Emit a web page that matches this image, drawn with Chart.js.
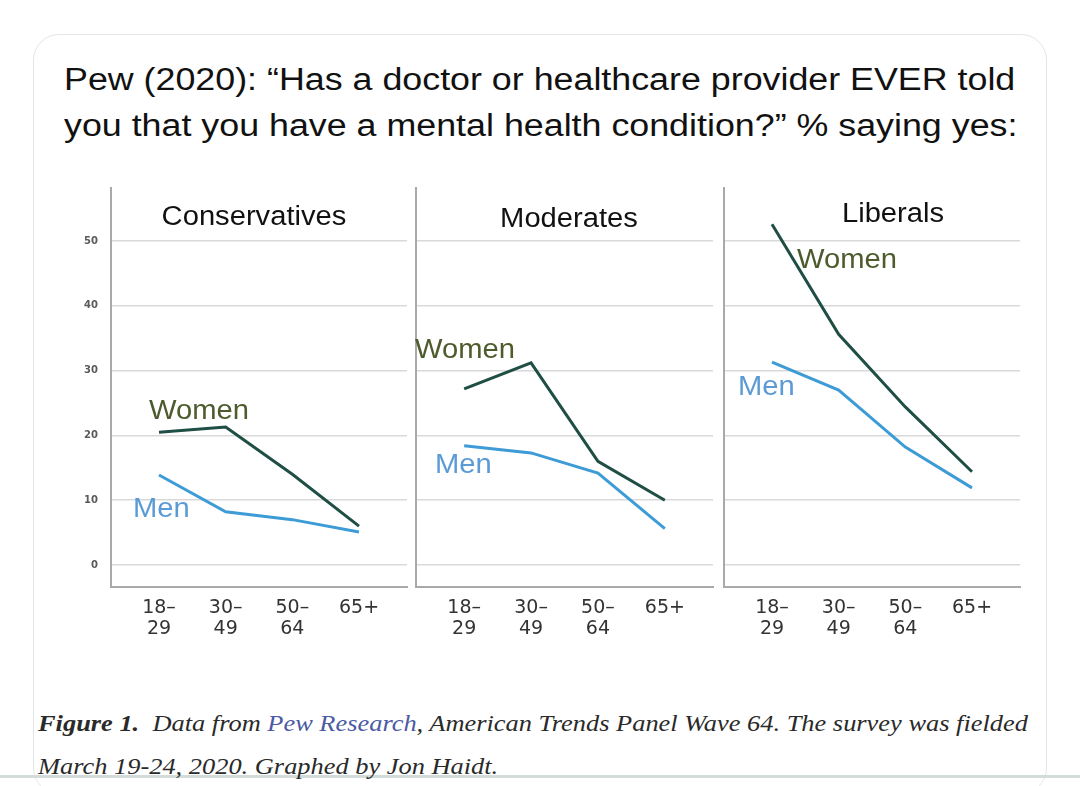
<!DOCTYPE html>
<html>
<head>
<meta charset="utf-8">
<script src="https://cdn.jsdelivr.net/npm/chart.js@4.4.1/dist/chart.umd.min.js"></script>
<style>
  html, body { margin: 0; padding: 0; background: #fff; }
  body { width: 1080px; height: 786px; position: relative; overflow: hidden; font-family: "Liberation Sans", Arial, sans-serif; }
  .card { position: absolute; left: 33px; top: 34px; width: 1014px; height: 760px; border: 1.5px solid #e6e6e6; border-radius: 26px; box-sizing: border-box; }
  .rule { position: absolute; left: 0; top: 775px; width: 1080px; height: 3px; background: #d3dbdb; }
  .title { position: absolute; left: 64px; top: 57px; font-size: 31px; line-height: 46px; color: #111; white-space: nowrap; transform: scaleX(1.155); transform-origin: 0 0; }
  .panel { position: absolute; }
  .ptitle { position: absolute; font-size: 27px; color: #111; white-space: nowrap; transform: translate(-50%, -50%) scaleX(1.08); }
  .slabel { position: absolute; font-size: 27px; white-space: nowrap; transform: translateY(-50%) scaleX(1.08); transform-origin: 0 50%; }
  .women { color: #4d5b2d; }
  .men { color: #5b9bd5; }
  .caption { position: absolute; left: 38px; top: 702px; font-family: "Liberation Serif", "DejaVu Serif", serif; font-style: italic; font-size: 24px; line-height: 43px; color: #2a2a2a; white-space: nowrap; transform: scaleX(1.1); transform-origin: 0 0; }
  .caption b { font-weight: bold; }
  .caption .link { color: #4b5aa5; }
</style>
</head>
<body>
<div class="card"></div>
<div class="rule"></div>
<div class="title">Pew (2020): “Has a doctor or healthcare provider EVER told<br>you that you have a mental health condition?” % saying yes:</div>

<canvas id="c0" class="panel"></canvas>
<canvas id="c1" class="panel"></canvas>
<canvas id="c2" class="panel"></canvas>

<div class="ptitle" style="left:254px; top:216px;">Conservatives</div>
<div class="ptitle" style="left:569px; top:218px;">Moderates</div>
<div class="ptitle" style="left:893px; top:213px;">Liberals</div>

<div class="slabel women" style="left:149px; top:410px;">Women</div>
<div class="slabel men" style="left:133px; top:508px;">Men</div>
<div class="slabel women" style="left:415px; top:349px;">Women</div>
<div class="slabel men" style="left:435px; top:464px;">Men</div>
<div class="slabel women" style="left:797px; top:259px;">Women</div>
<div class="slabel men" style="left:738px; top:386px;">Men</div>

<div class="caption"><b>Figure 1.</b>&nbsp; Data from <span class="link">Pew Research</span>, American Trends Panel Wave 64. The survey was fielded<br>March 19-24, 2020. Graphed by Jon Haidt.</div>

<script>
// age groups and % saying yes
const ageGroups = [['18–', '29'], ['30–', '49'], ['50–', '64'], ['65+']];
const panels = ['Conservatives', 'Moderates', 'Liberals'];
const women = [
  [20.5, 21.3, 14.0, 6.0],   // Conservatives
  [27.2, 31.2, 16.0, 10.0],  // Moderates
  [52.6, 35.6, 24.4, 14.4]   // Liberals
];
const men = [
  [13.9, 8.2, 7.0, 5.1],
  [18.4, 17.3, 14.2, 5.6],
  [31.3, 27.0, 18.2, 11.9]
];
const yTicks = [0, 10, 20, 30, 40, 50];

// where each panel's plot area sits on the page
const axisLeft = [111, 416, 724];
const plotWidth = [296, 297, 296];
const plotTop = 188, plotBottom = 587;

const womenColor = '#1f4e44';
const menColor = '#3d9bd6';

function pts(arr) {
  return arr.map((v, i) => ({ x: i, y: v }));
}

// y tick labels for the first panel, placed with the y scale
const yLabels = {
  id: 'yLabels',
  afterDraw(chart, args, opts) {
    if (!opts.show) return;
    const { ctx, scales: { y } } = chart;
    ctx.save();
    ctx.font = 'bold 10px "DejaVu Sans"';
    ctx.fillStyle = '#5a5a5a';
    ctx.textAlign = 'right';
    ctx.textBaseline = 'middle';
    yTicks.forEach(v => ctx.fillText(String(v), y.left + y.width - 13, y.getPixelForValue(v)));
    ctx.restore();
  }
};

panels.forEach((name, p) => {
  const canvas = document.getElementById('c' + p);
  const yAxisW = p === 0 ? 51 : 4;
  const left = axisLeft[p] - yAxisW;
  const w = yAxisW + plotWidth[p] + 2;
  const top = plotTop - 2;
  const h = 660 - top;
  canvas.style.left = left + 'px';
  canvas.style.top = top + 'px';
  canvas.style.width = w + 'px';
  canvas.style.height = h + 'px';
  canvas.width = w;
  canvas.height = h;

  new Chart(canvas, {
    type: 'line',
    data: {
      datasets: [
        { label: 'Women', data: pts(women[p]), borderColor: womenColor, borderWidth: 3, pointRadius: 0, tension: 0 },
        { label: 'Men', data: pts(men[p]), borderColor: menColor, borderWidth: 3, pointRadius: 0, tension: 0 }
      ]
    },
    plugins: [yLabels],
    options: {
      responsive: false,
      animation: false,
      layout: { autoPadding: false, padding: { top: 2, right: 2, left: 0, bottom: 0 } },
      plugins: {
        legend: { display: false },
        title: { display: false },
        tooltip: { enabled: false },
        yLabels: { show: p === 0 }
      },
      scales: {
        x: {
          type: 'linear',
          min: -0.72,
          max: 3.72,
          afterBuildTicks: s => { s.ticks = ageGroups.map((g, i) => ({ value: i })); },
          afterFit: s => { s.height = h - 2 - (plotBottom - plotTop); },
          grid: { display: false, drawTicks: false },
          border: { display: true, color: '#a9a9a9', width: 2 },
          ticks: {
            padding: 11,
            maxRotation: 0,
            autoSkip: false,
            color: '#333',
            font: { family: 'DejaVu Sans', size: 19, lineHeight: 1.1 },
            callback: v => ageGroups[v]
          }
        },
        y: {
          min: -3.4,
          max: 58.2,
          afterBuildTicks: s => { s.ticks = yTicks.map(v => ({ value: v })); },
          afterFit: s => { s.width = yAxisW; },
          grid: { color: '#d9d9d9', lineWidth: 1.5, drawTicks: false },
          border: { display: true, color: '#a9a9a9', width: 2 },
          ticks: { display: false }
        }
      }
    }
  });
});
</script>
</body>
</html>
